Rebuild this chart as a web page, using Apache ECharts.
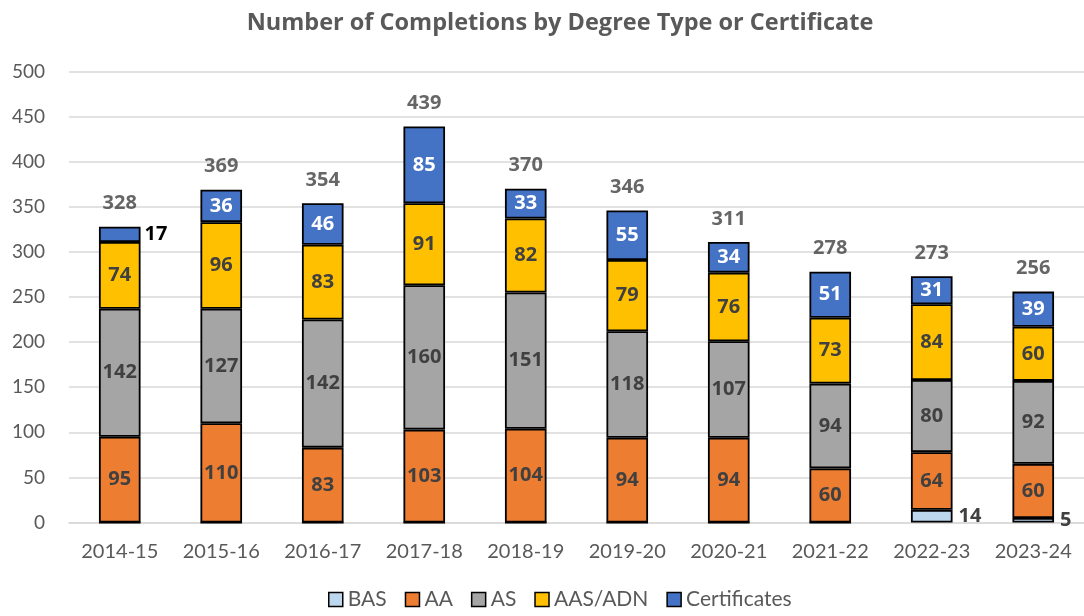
<!DOCTYPE html>
<html>
<head>
<meta charset="utf-8">
<script src="https://cdn.jsdelivr.net/npm/echarts@6/dist/echarts.min.js"></script>
<style>
  html, body { margin: 0; padding: 0; background: #fff; }
  #chart { width: 1084px; height: 616px; }
</style>
</head>
<body>
<div id="chart"></div>
<script>
const years = ['2014-15', '2015-16', '2016-17', '2017-18', '2018-19', '2019-20', '2020-21', '2021-22', '2022-23', '2023-24']
const bas = [0, 0, 0, 0, 0, 0, 0, 0, 14, 5]
const aa = [95, 110, 83, 103, 104, 94, 94, 60, 64, 60]
const as = [142, 127, 142, 160, 151, 118, 107, 94, 80, 92]
const aasAdn = [74, 96, 83, 91, 82, 79, 76, 73, 84, 60]
const certificates = [17, 36, 46, 85, 33, 55, 34, 51, 31, 39]
const totals = [328, 369, 354, 439, 370, 346, 311, 278, 273, 256]
const yTicks = [0, 50, 100, 150, 200, 250, 300, 350, 400, 450, 500]

const font = 'Lato, "Open Sans", sans-serif'
const boldFont = '"Open Sans", Lato, sans-serif'
const labelStyle = {
  show: true,
  position: 'inside',
  fontFamily: boldFont,
  fontWeight: 'bold',
  fontSize: 20,
  color: '#404040'
}

function barSeries(name, color, data, label) {
  return {
    name: name,
    type: 'bar',
    stack: 'total',
    barWidth: '41%',
    itemStyle: { color: color, borderColor: '#000', borderWidth: 1.8 },
    label: Object.assign({}, labelStyle, label || {}),
    data: data
  }
}

const chart = echarts.init(document.getElementById('chart'))
chart.setOption({
  animation: false,
  title: {
    text: 'Number of Completions by Degree Type or Certificate',
    left: 555,
    textAlign: 'center',
    top: 6,
    textStyle: { fontFamily: boldFont, fontWeight: 'bold', fontSize: 23.5, color: '#595959' }
  },
  legend: {
    data: ['BAS', 'AA', 'AS', 'AAS/ADN', 'Certificates'],
    bottom: 1,
    left: 323,
    icon: 'rect',
    itemWidth: 14,
    itemHeight: 14,
    itemGap: 18,
    itemStyle: { borderColor: '#000', borderWidth: 1.5 },
    textStyle: { fontFamily: font, fontSize: 21, color: '#595959' }
  },
  grid: { left: 69, width: 1020, top: 71.5, height: 451, containLabel: false },
  xAxis: {
    type: 'category',
    data: years,
    axisTick: { show: false },
    axisLine: { lineStyle: { color: '#D9D9D9', width: 1.5 } },
    axisLabel: { fontFamily: font, fontSize: 20, color: '#595959', margin: 19 }
  },
  yAxis: {
    type: 'value',
    min: yTicks[0],
    max: yTicks[yTicks.length - 1],
    interval: 50,
    axisLine: { show: false },
    axisTick: { show: false },
    axisLabel: { fontFamily: font, fontSize: 19, color: '#595959', margin: 24 },
    splitLine: { lineStyle: { color: '#D9D9D9', width: 1.5 } }
  },
  series: [
    barSeries('BAS', '#BDD7EE', bas, {
      position: 'right',
      distance: 6,
      formatter: p => (p.value ? p.value : '')
    }),
    barSeries('AA', '#ED7D31', aa),
    barSeries('AS', '#A5A5A5', as),
    barSeries('AAS/ADN', '#FFC000', aasAdn),
    barSeries('Certificates', '#4472C4', certificates.map((v, i) =>
      i === 0 ? { value: v, label: { position: 'right', distance: 4, color: '#000' } } : v
    ), { color: '#fff' }),
    {
      name: 'Total',
      type: 'scatter',
      symbolSize: 0,
      silent: true,
      label: Object.assign({}, labelStyle, { position: 'top', distance: 13 }),
      data: totals
    }
  ]
})
</script>
</body>
</html>
